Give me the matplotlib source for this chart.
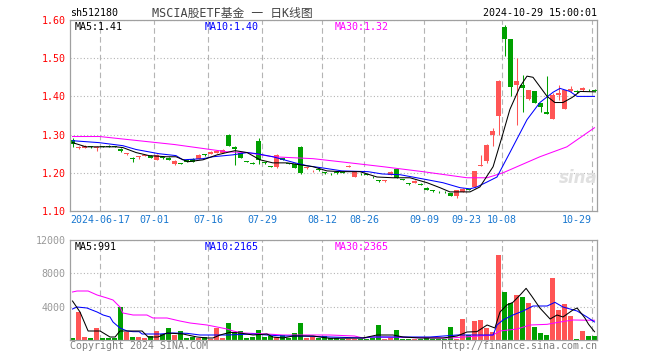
import numpy as np
import matplotlib
matplotlib.use('Agg')
import matplotlib.pyplot as plt

# daily candles, index 0 .. 87 (trading days)
opens = [1.285, 1.264, 1.266, 1.269, 1.266, 1.270, 1.271, 1.270, 1.262, 1.249,
         1.240, 1.241, 1.244, 1.245, 1.234, 1.242, 1.240, 1.222, 1.225, 1.234,
         1.237, 1.237, 1.248, 1.250, 1.253, 1.253, 1.300, 1.268, 1.253, 1.230,
         1.226, 1.284, 1.227, 1.217, 1.214, 1.239, 1.225, 1.224, 1.268, 1.212,
         1.204, 1.209, 1.201, 1.198, 1.201, 1.202, 1.215, 1.189, 1.198, 1.196,
         1.190, 1.180, 1.178, 1.195, 1.210, 1.183, 1.172, 1.174, 1.171, 1.161,
         1.154, 1.151, 1.151, 1.147, 1.139, 1.150, 1.157, 1.163, 1.218, 1.230,
         1.300, 1.348, 1.582, 1.550, 1.429, 1.431, 1.392, 1.413, 1.382, 1.360,
         1.342, 1.403, 1.368, 1.413, 1.414, 1.416, 1.418, 1.417]
closes = [1.275, 1.267, 1.271, 1.267, 1.268, 1.268, 1.268, 1.268, 1.256, 1.251,
          1.237, 1.243, 1.246, 1.240, 1.247, 1.238, 1.234, 1.232, 1.223, 1.229,
          1.229, 1.247, 1.246, 1.255, 1.258, 1.260, 1.271, 1.263, 1.240, 1.229,
          1.224, 1.234, 1.225, 1.215, 1.247, 1.234, 1.223, 1.213, 1.200, 1.214,
          1.206, 1.207, 1.199, 1.196, 1.199, 1.200, 1.217, 1.203, 1.196, 1.194,
          1.188, 1.178, 1.180, 1.203, 1.187, 1.181, 1.170, 1.179, 1.169, 1.155,
          1.152, 1.149, 1.149, 1.139, 1.155, 1.158, 1.155, 1.205, 1.221, 1.274,
          1.310, 1.440, 1.550, 1.424, 1.440, 1.421, 1.416, 1.384, 1.371, 1.355,
          1.403, 1.410, 1.416, 1.420, 1.412, 1.421, 1.416, 1.415]
highs = [1.290, 1.270, 1.273, 1.270, 1.270, 1.271, 1.272, 1.271, 1.264, 1.252,
         1.241, 1.245, 1.247, 1.246, 1.248, 1.243, 1.241, 1.233, 1.226, 1.235,
         1.238, 1.248, 1.249, 1.256, 1.259, 1.261, 1.302, 1.270, 1.254, 1.231,
         1.227, 1.290, 1.228, 1.218, 1.248, 1.240, 1.226, 1.225, 1.270, 1.216,
         1.208, 1.210, 1.202, 1.199, 1.202, 1.203, 1.221, 1.204, 1.199, 1.197,
         1.191, 1.181, 1.181, 1.204, 1.211, 1.184, 1.173, 1.180, 1.172, 1.162,
         1.156, 1.152, 1.152, 1.148, 1.156, 1.159, 1.158, 1.206, 1.247, 1.276,
         1.318, 1.442, 1.587, 1.550, 1.500, 1.455, 1.418, 1.414, 1.383, 1.453,
         1.410, 1.430, 1.418, 1.427, 1.416, 1.424, 1.420, 1.420]
lows = [1.268, 1.262, 1.265, 1.266, 1.257, 1.267, 1.267, 1.267, 1.254, 1.247,
        1.229, 1.237, 1.243, 1.239, 1.233, 1.237, 1.233, 1.221, 1.222, 1.228,
        1.228, 1.236, 1.245, 1.249, 1.252, 1.252, 1.269, 1.221, 1.239, 1.228,
        1.223, 1.224, 1.224, 1.214, 1.212, 1.233, 1.222, 1.212, 1.198, 1.210,
        1.203, 1.206, 1.198, 1.195, 1.198, 1.199, 1.214, 1.188, 1.195, 1.193,
        1.187, 1.177, 1.177, 1.194, 1.186, 1.180, 1.169, 1.173, 1.168, 1.154,
        1.151, 1.148, 1.148, 1.138, 1.135, 1.149, 1.154, 1.160, 1.217, 1.226,
        1.271, 1.300, 1.505, 1.400, 1.324, 1.358, 1.390, 1.383, 1.360, 1.353,
        1.340, 1.390, 1.366, 1.412, 1.410, 1.415, 1.414, 1.412]
volumes = [200, 3350, 350, 250, 1450, 250, 200, 200, 3980, 1000,
           350, 350, 200, 500, 1100, 700, 1480, 650, 1080, 250,
           350, 200, 350, 150, 1400, 200, 2080, 1000, 1080, 200,
           350, 1200, 350, 500, 350, 550, 300, 900, 2000, 300,
           400, 300, 500, 200, 200, 100, 150, 150, 150, 150,
           200, 1800, 150, 200, 1200, 150, 150, 150, 150, 200,
           150, 150, 150, 1560, 150, 2520, 600, 2280, 2400, 1440,
           960, 10200, 5760, 4440, 5400, 5200, 4480, 1600, 880, 600,
           7480, 3600, 4320, 2900, 100, 1080, 520, 520]

# moving averages (day index, value)
ma5_x = [0, 2.25, 7.25, 8.4, 10.6, 12.75, 15.6, 17.25, 19.25, 21.75, 24.1, 26.25,
         27.1, 29.1, 31.25, 33.4, 35.75, 37.9, 40.1, 42.4, 44.6, 47.9, 50.75, 53.4,
         56.25, 59.1, 61.25, 62.9, 66.25, 67.9, 70.1, 71.6, 72.9, 74.6, 75.75, 76.75,
         79.1, 80.4, 81.75, 83.25, 84.6, 87]
ma5_y = [1.279, 1.268, 1.268, 1.266, 1.253, 1.245, 1.242, 1.242, 1.229, 1.234, 1.247, 1.255,
         1.258, 1.253, 1.234, 1.226, 1.226, 1.221, 1.216, 1.205, 1.203, 1.203, 1.189, 1.187,
         1.187, 1.174, 1.161, 1.150, 1.150, 1.163, 1.216, 1.295, 1.366, 1.426, 1.453, 1.450,
         1.400, 1.384, 1.384, 1.397, 1.413, 1.412]
ma10_x = [0, 4.4, 8.4, 10.6, 14.4, 17.25, 18.4, 21.75, 23.4, 26.75, 29.1, 30.75, 33.4,
          37.1, 39.25, 41.6, 44.9, 49.25, 51.6, 54.6, 58.4, 61.75, 64.6, 66.25, 67.4,
          69.1, 70.75, 72.9, 75.75, 77.9, 80.1, 81.25, 82.9, 84.1, 87]
ma10_y = [1.284, 1.279, 1.271, 1.261, 1.250, 1.245, 1.234, 1.237, 1.242, 1.247, 1.253, 1.250, 1.242,
          1.226, 1.218, 1.213, 1.205, 1.203, 1.197, 1.195, 1.184, 1.174, 1.161, 1.158, 1.163,
          1.176, 1.189, 1.253, 1.339, 1.384, 1.411, 1.421, 1.413, 1.400, 1.400]
ma30_x = [0, 4.5, 17, 25.75, 29.1, 33.4, 40.1, 44.6, 51.75, 58.4, 65.75, 69.1, 71.75,
          77.9, 82.4, 87]
ma30_y = [1.295, 1.295, 1.274, 1.255, 1.253, 1.242, 1.237, 1.229, 1.216, 1.203, 1.187, 1.187, 1.200,
          1.242, 1.268, 1.318]

vma5_x = [0, 1.25, 2.6, 4.6, 6.25, 7.1, 7.9, 11.6, 12.6, 14.25, 15.75, 18.4, 20.75, 22.4,
          23.4, 24.6, 26.25, 27.9, 30.1, 32.4, 33.4, 35.1, 36.75, 40.1, 41.25, 42.9, 48.4,
          50.75, 53.4, 55.1, 57.9, 61.75, 64.1, 65.75, 67.4, 69.1, 70.4, 71.25, 72.4, 73.4,
          74.6, 75.6, 76.6, 77.9, 79.6, 80.75, 81.75, 83.4, 84.1, 85.4, 86, 87]
vma5_y = [4680, 3360, 1080, 1080, 360, 360, 1080, 1080, 360, 360, 840, 720, 360, 240,
          240, 600, 920, 840, 600, 720, 360, 240, 480, 480, 360, 200, 240,
          600, 600, 360, 240, 240, 480, 960, 1000, 1800, 1440, 3360, 4200, 4520,
          5400, 6200, 5200, 3840, 2520, 3000, 2760, 3600, 3840, 2640, 1900, 991]
vma10_x = [0, 0.75, 2.4, 4.1, 5.1, 6.25, 6.75, 7.9, 9.1, 10.1, 11.1, 11.6, 14.6, 16.75,
           19.1, 21.25, 25.75, 30.1, 32.4, 35.1, 37.9, 42.9, 48.4, 49.6, 57.4, 59.6, 64.1,
           70.1, 70.75, 71.75, 73.4, 75.1, 76.75, 79.1, 80.4, 81.75, 84.1, 85.75, 87]
vma10_y = [3720, 3960, 3840, 3360, 3000, 2760, 2160, 1440, 1080, 1000, 1000, 720, 720, 840,
           800, 600, 600, 720, 600, 480, 480, 360, 240, 360, 360, 360, 600,
           600, 1800, 2400, 3000, 3480, 4080, 4080, 4520, 3960, 3480, 2760, 2165]
vma30_x = [0, 0.75, 2.6, 4.1, 5.75, 6.75, 7.9, 8.4, 10.1, 12.4, 13.4, 15.75, 17.9, 19.6,
           22.4, 24.1, 25.75, 26.75, 28.4, 32.4, 35.1, 42.9, 47, 48.4, 50.1, 62.9, 70.1,
           71.25, 74.1, 76.25, 79.1, 81.25, 83.4, 87]
vma30_y = [5760, 5880, 5880, 5400, 5040, 4800, 3960, 3240, 3000, 3000, 2640, 2640, 2280, 2040,
           1800, 1560, 1320, 1080, 840, 720, 600, 600, 480, 240, 360, 240, 600,
           1080, 1320, 1800, 1880, 2160, 2400, 2365]

tick_idx = [5, 14, 23, 32, 42, 49, 59, 66, 72, 87]
tick_labels = ['2024-06-17', '07-01', '07-16', '07-29', '08-12', '08-26',
               '09-09', '09-23', '10-08', '10-29']
price_ticks = [1.10, 1.20, 1.30, 1.40, 1.50, 1.60]
vol_ticks = [4000, 8000, 12000]

RED = '#ff5555'
GREEN = '#00a000'
GRID = '#b4b4b4'
MONO = 'DejaVu Sans Mono'
FS = 7.2
LW = 0.75
W, H = 660, 360


def px(x, y):
    return x / W, 1 - y / H


o = np.array(opens)
c = np.array(closes)
idx = np.arange(len(o))
colors = [RED if cc >= oo else GREEN for oo, cc in zip(o, c)]
bw = 5 / 6
mid = 2.5 / 6

fig = plt.figure(figsize=(6.6, 3.6), dpi=100)
ax = fig.add_axes([70 / W, 1 - 211 / H, 527 / W, 191 / H])
vax = fig.add_axes([70 / W, 1 - 340 / H, 527 / W, 100 / H])

for a in (ax, vax):
    a.set_xlim(0, 527 / 6)
    a.set_xticks(tick_idx)
    a.grid(axis='x', color=GRID, linestyle=(0, (5, 3)), linewidth=0.8)
    a.grid(axis='y', color=GRID, linestyle=(0, (1, 2)), linewidth=0.8)
    a.set_axisbelow(True)
    a.tick_params(length=0)
    for s in a.spines.values():
        s.set_color('#a0a0a0')
        s.set_linewidth(0.9)

# candles
ax.vlines(idx + mid, lows, highs, colors=colors, linewidth=0.75)
ax.bar(idx, np.maximum(np.abs(c - o), 0.0018), bottom=np.minimum(o, c),
       width=bw, align='edge', color=colors, linewidth=0)
ax.plot(np.array(ma30_x) + mid, ma30_y, color='#ff00ff', lw=LW)
ax.plot(np.array(ma10_x) + mid, ma10_y, color='#0000ff', lw=LW)
ax.plot(np.array(ma5_x) + mid, ma5_y, color='black', lw=LW)
ax.set_ylim(1.10, 1.60)
ax.set_yticks(price_ticks)
ax.set_yticklabels([f'{t:.2f}' for t in price_ticks], color='#ff0000',
                   fontsize=FS, family=MONO)
ax.tick_params(axis='y', pad=3)
ax.set_xticklabels(tick_labels, color='#1a78d0', fontsize=FS, family=MONO)
ax.tick_params(axis='x', pad=3)
ax.get_xticklabels()[-1].set_ha('right')

# volume
vax.bar(idx, volumes, width=bw, align='edge', color=colors, linewidth=0)
vax.plot(np.array(vma30_x) + mid, vma30_y, color='#ff00ff', lw=LW)
vax.plot(np.array(vma10_x) + mid, vma10_y, color='#0000ff', lw=LW)
vax.plot(np.array(vma5_x) + mid, vma5_y, color='black', lw=LW)
vax.set_ylim(0, 12000)
vax.set_yticks(vol_ticks)
vax.set_yticklabels([str(t) for t in vol_ticks], color='#999999',
                    fontsize=FS, family=MONO)
vax.tick_params(axis='y', pad=3)
vax.set_xticklabels([])

# header / legend texts
fig.text(*px(70, 13), 'sh512180', fontsize=FS, family=MONO, va='center')
fig.text(*px(232, 13), 'MSCIA股ETF基金 一 日K线图', fontsize=8.5,
         family=[MONO, 'Noto Sans CJK SC'], color='#444444', ha='center', va='center')
fig.text(*px(597, 13), '2024-10-29 15:00:01', fontsize=FS, family=MONO,
         ha='right', va='center')

for y, vals in ((26.5, ('MA5:1.41', 'MA10:1.40', 'MA30:1.32')),
                (246.5, ('MA5:991', 'MA10:2165', 'MA30:2365'))):
    for x, t, col in zip((75, 205, 335), vals, ('black', '#0000ff', '#ff00ff')):
        fig.text(*px(x, y), t, fontsize=FS, family=MONO, color=col, va='center')

fig.text(*px(70, 346), 'Copyright 2024 SINA.COM', fontsize=FS, family=MONO,
         color='#808080', va='center')
fig.text(*px(597, 346), 'http://finance.sina.com.cn', fontsize=FS, family=MONO,
         color='#808080', ha='right', va='center')
fig.text(*px(578, 178), 'sina', fontsize=12, style='italic', weight='bold',
         color='#e0e0e0', ha='center', va='center')

fig.savefig('out.png', dpi=100)
